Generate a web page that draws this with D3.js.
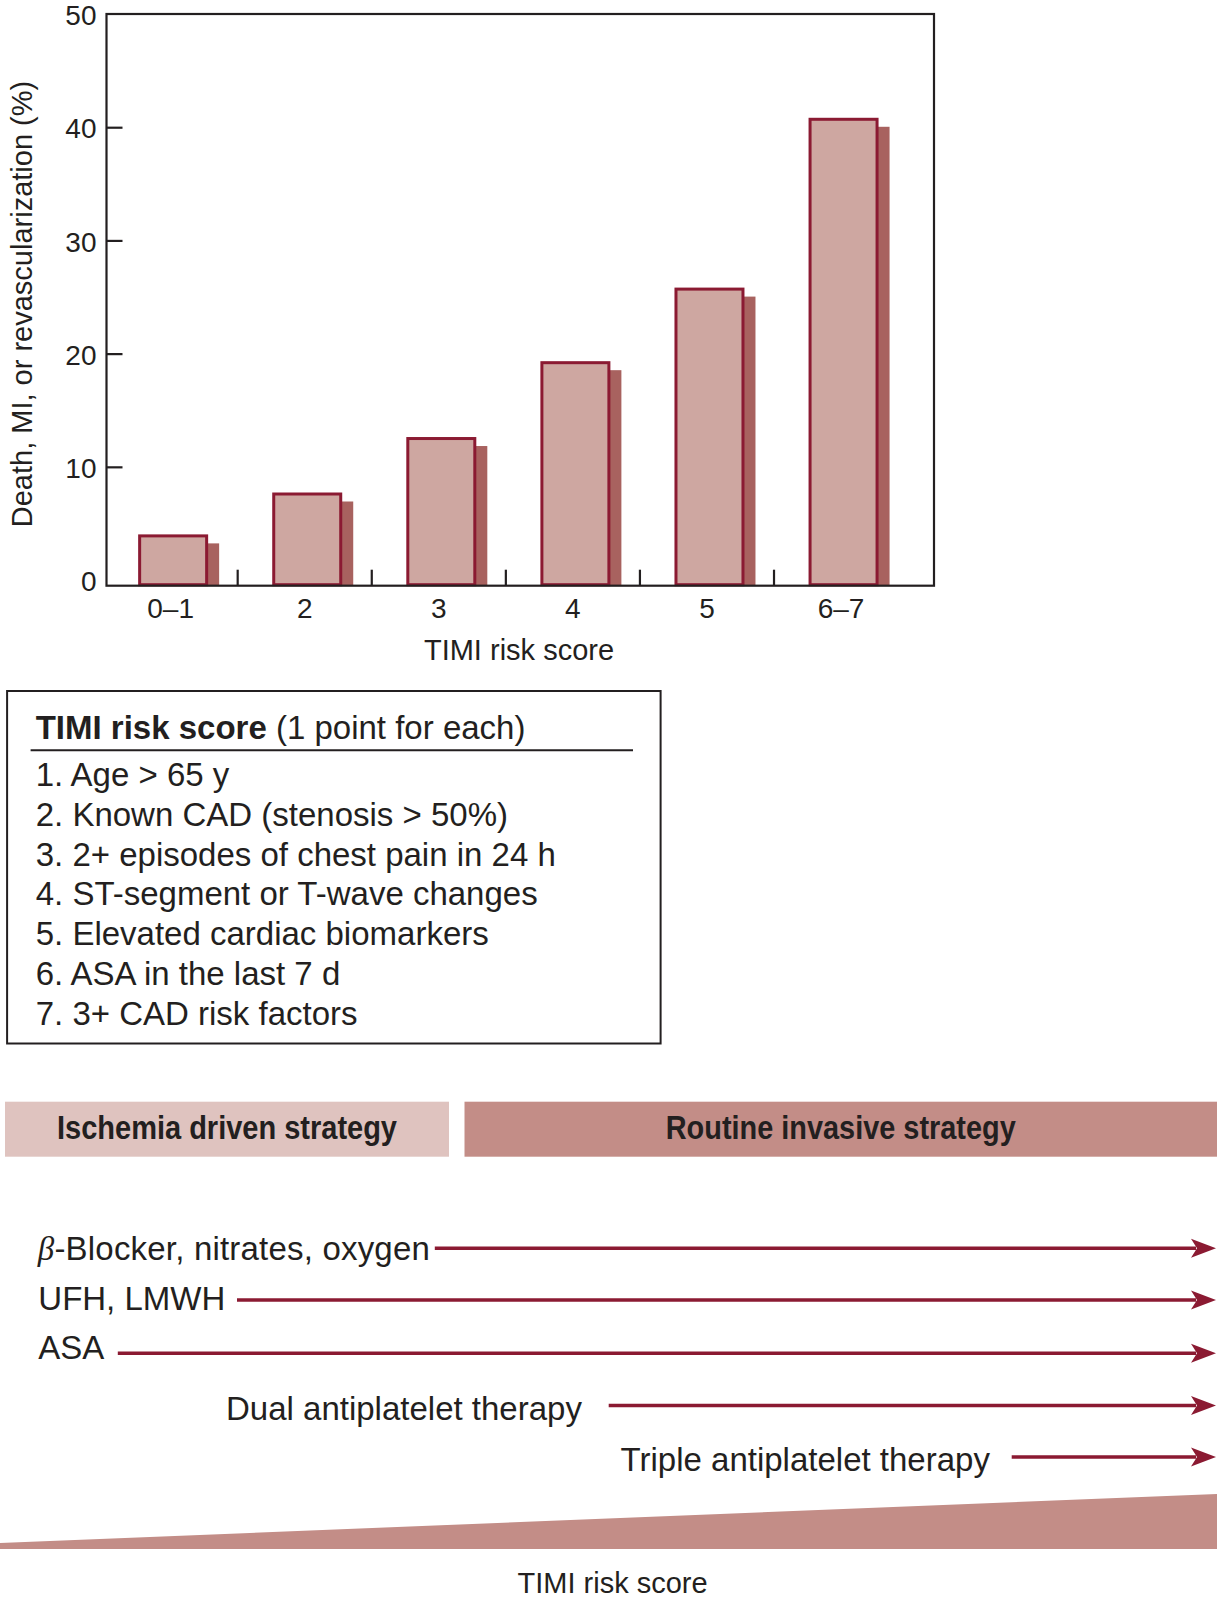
<!DOCTYPE html>
<html><head><meta charset="utf-8">
<script src="https://cdn.jsdelivr.net/npm/d3@7"></script>
<style>
body{margin:0;background:#fff;}
svg{display:block;font-family:"Liberation Sans",Arial,Helvetica,sans-serif;}
</style></head><body>
<svg id="c" width="1217" height="1601"></svg>
<script>
// ---------- data ----------
const categories = ["0–1", "2", "3", "4", "5", "6–7"];
const eventRates = [3.9, 7.6, 12.5, 19.2, 25.7, 40.7];
const yTicks = [0, 10, 20, 30, 40, 50];
const yAxisTitle = "Death, MI, or revascularization (%)";
const xAxisTitle = "TIMI risk score";
const tableTitleBold = "TIMI risk score";
const tableTitleRest = " (1 point for each)";
const riskFactors = [
  "1. Age > 65 y",
  "2. Known CAD (stenosis > 50%)",
  "3. 2+ episodes of chest pain in 24 h",
  "4. ST-segment or T-wave changes",
  "5. Elevated cardiac biomarkers",
  "6. ASA in the last 7 d",
  "7. 3+ CAD risk factors"
];
const strategies = ["Ischemia driven strategy", "Routine invasive strategy"];
const therapies = ["β-Blocker, nitrates, oxygen", "UFH, LMWH", "ASA", "Dual antiplatelet therapy", "Triple antiplatelet therapy"];
const bottomTitle = "TIMI risk score";

// ---------- layout / style ----------
const ink = "#231f20", crimson = "#8b1a32";
const barFill = "#cea7a1", shadowFill = "#a8625f";
const stratFills = ["#dfc3bf", "#c38d87"];
const plot = {left: 106.5, top: 14, right: 934, bottom: 585.7};
const stratLayout = [{x0: 5, x1: 449, tl: 340}, {x0: 464.5, x1: 1217, tl: 350}];
const stratBand = {y: 1101.7, h: 55};
const arrowLayout = [
  {tx: 37.8, ty: 1260, lx: 434.8, ly: 1248.3, tl: 392},
  {tx: 38.3, ty: 1310, lx: 237, ly: 1300},
  {tx: 38.3, ty: 1359.3, lx: 117.8, ly: 1353.3},
  {tx: 226, ty: 1420, lx: 608.7, ly: 1405.5},
  {tx: 620.6, ty: 1471, lx: 1011.7, ly: 1457}
];
const tipX = 1216;

const svg = d3.select("#c");

// ---------- bar chart ----------
const y = d3.scaleLinear().domain([-0.5, 50]).range([plot.bottom, plot.top]);
const x = d3.scaleBand().domain(categories).range([103.6, 908.1]);
const barW = 70, barShift = 2.5, shDx = 11, shDy = 9, sw = 3;
const cx = i => x(categories[i]) + x.bandwidth() / 2 + barShift;

const gBars = svg.append("g");
gBars.selectAll("rect.shadow").data(eventRates).join("rect")
  .attr("class", "shadow")
  .attr("x", (d, i) => cx(i) - barW / 2 + shDx)
  .attr("y", d => y(d) - sw / 2 + shDy)
  .attr("width", barW)
  .attr("height", d => plot.bottom - (y(d) - sw / 2 + shDy))
  .attr("fill", shadowFill);
gBars.selectAll("rect.bar").data(eventRates).join("rect")
  .attr("class", "bar")
  .attr("x", (d, i) => cx(i) - barW / 2 + sw / 2)
  .attr("y", d => y(d))
  .attr("width", barW - sw)
  .attr("height", d => plot.bottom - y(d) - 1)
  .attr("fill", barFill)
  .attr("stroke", crimson)
  .attr("stroke-width", sw);

// frame
svg.append("rect")
  .attr("x", plot.left).attr("y", plot.top)
  .attr("width", plot.right - plot.left).attr("height", plot.bottom - plot.top)
  .attr("fill", "none").attr("stroke", ink).attr("stroke-width", 2.2);

// y axis
const yAxis = svg.append("g").attr("transform", `translate(${plot.left},0)`)
  .call(d3.axisLeft(y).tickValues(yTicks).tickSizeInner(-16).tickSizeOuter(0).tickPadding(10));
yAxis.select(".domain").remove();
yAxis.selectAll(".tick line").attr("stroke", ink).attr("stroke-width", 2.2)
  .attr("display", d => (d === 0 || d === 50) ? "none" : null);
yAxis.selectAll(".tick text").attr("fill", ink).attr("font-size", 28).attr("dy", "0.38em")
  .attr("font-family", "Liberation Sans, Arial, sans-serif");

// x axis labels
const xAxis = svg.append("g").attr("transform", `translate(0,${plot.bottom})`)
  .call(d3.axisBottom(x).tickSize(0).tickPadding(12));
xAxis.select(".domain").remove();
xAxis.selectAll(".tick text").attr("fill", ink).attr("font-size", 28)
  .attr("font-family", "Liberation Sans, Arial, sans-serif");
// separator ticks between categories
svg.append("g").selectAll("line").data(categories.slice(1)).join("line")
  .attr("x1", d => x(d)).attr("x2", d => x(d))
  .attr("y1", plot.bottom).attr("y2", plot.bottom - 16)
  .attr("stroke", ink).attr("stroke-width", 2.2);

// axis titles
svg.append("text")
  .attr("transform", `translate(31.5,304) rotate(-90)`)
  .attr("text-anchor", "middle").attr("font-size", 29).attr("fill", ink)
  .text(yAxisTitle);
svg.append("text")
  .attr("x", 519).attr("y", 660)
  .attr("text-anchor", "middle").attr("font-size", 29).attr("fill", ink)
  .text(xAxisTitle);

// ---------- risk score table ----------
svg.append("rect").attr("x", 7.1).attr("y", 691).attr("width", 653.5).attr("height", 352.5)
  .attr("fill", "none").attr("stroke", ink).attr("stroke-width", 2);
const tt = svg.append("text").attr("x", 35.7).attr("y", 739.3).attr("font-size", 33).attr("fill", ink);
tt.append("tspan").attr("font-weight", "bold").text(tableTitleBold);
tt.append("tspan").text(tableTitleRest);
svg.append("line").attr("x1", 30.6).attr("x2", 633).attr("y1", 750.3).attr("y2", 750.3)
  .attr("stroke", ink).attr("stroke-width", 2);
svg.append("g").selectAll("text").data(riskFactors).join("text")
  .attr("x", 35.7).attr("y", (d, i) => 786 + i * 39.8)
  .attr("font-size", 33).attr("fill", ink)
  .text(d => d);

// ---------- strategy bands ----------
const gS = svg.append("g");
gS.selectAll("rect").data(strategies).join("rect")
  .attr("x", (d, i) => stratLayout[i].x0).attr("y", stratBand.y)
  .attr("width", (d, i) => stratLayout[i].x1 - stratLayout[i].x0).attr("height", stratBand.h)
  .attr("fill", (d, i) => stratFills[i]);
gS.selectAll("text").data(strategies).join("text")
  .attr("x", (d, i) => (stratLayout[i].x0 + stratLayout[i].x1) / 2).attr("y", 1139.3)
  .attr("text-anchor", "middle").attr("font-weight", "bold").attr("font-size", 33)
  .attr("textLength", (d, i) => stratLayout[i].tl).attr("lengthAdjust", "spacingAndGlyphs")
  .attr("fill", ink).text(d => d);

// ---------- therapy arrows ----------
const gA = svg.append("g");
therapies.forEach((label, i) => {
  const L = arrowLayout[i];
  const t = gA.append("text").attr("x", L.tx).attr("y", L.ty).attr("font-size", 33).attr("fill", ink);
  if (label.startsWith("β")) {
    t.append("tspan").attr("font-family", "Liberation Serif, DejaVu Serif, serif").attr("font-style", "italic").text("β");
    t.append("tspan").text(label.slice(1));
    if (L.tl) t.attr("textLength", L.tl).attr("lengthAdjust", "spacing");
  } else {
    t.text(label);
  }
  gA.append("line").attr("x1", L.lx).attr("x2", tipX - 20).attr("y1", L.ly).attr("y2", L.ly)
    .attr("stroke", crimson).attr("stroke-width", 3.4);
  gA.append("path")
    .attr("d", `M${tipX},${L.ly} L${tipX - 25},${L.ly - 9.5} L${tipX - 19},${L.ly} L${tipX - 25},${L.ly + 9.5} Z`)
    .attr("fill", crimson);
});

// ---------- rising risk wedge ----------
svg.append("path")
  .attr("d", "M0,1543 L1217,1494 L1217,1549 L0,1549 Z")
  .attr("fill", stratFills[1]);
svg.append("text").attr("x", 612.6).attr("y", 1593)
  .attr("text-anchor", "middle").attr("font-size", 29).attr("fill", ink)
  .text(bottomTitle);
</script>
</body></html>
